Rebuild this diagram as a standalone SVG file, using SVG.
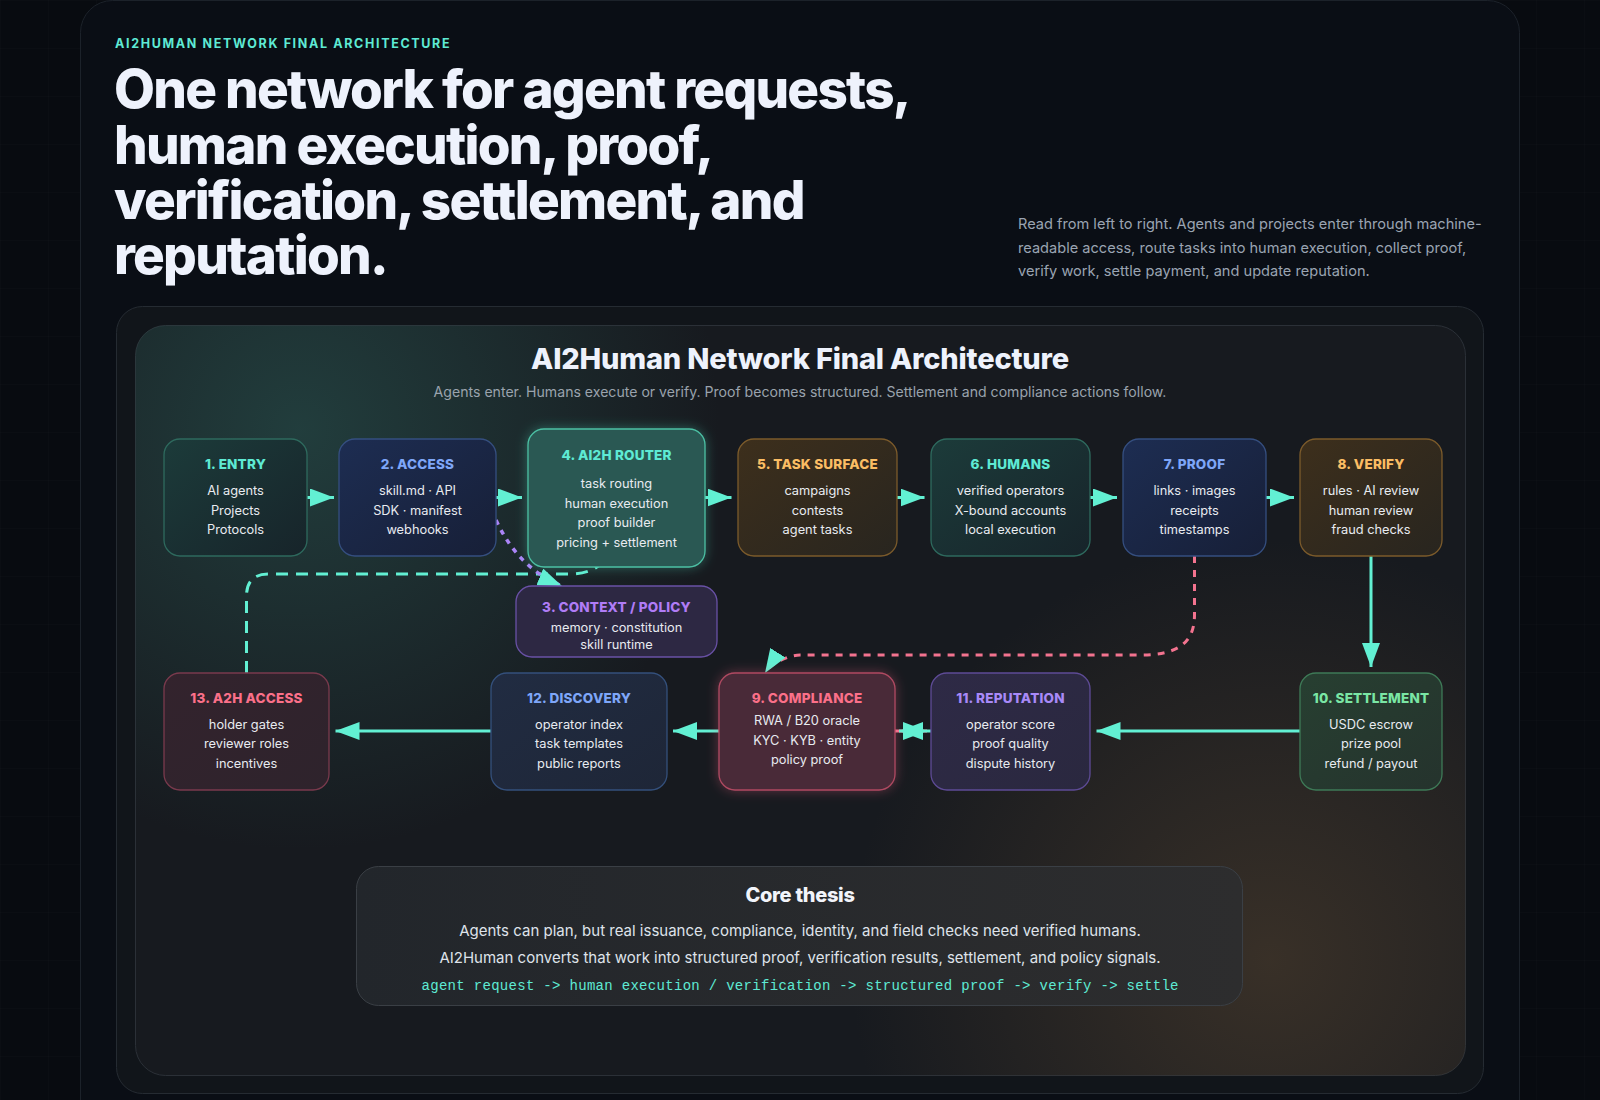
<svg xmlns="http://www.w3.org/2000/svg" width="1600" height="1100" viewBox="0 0 1600 1100">
<defs>
<pattern id="grid" width="48" height="48" patternUnits="userSpaceOnUse">
<path d="M48 0 L0 0 0 48" fill="none" stroke="#ffffff" stroke-opacity="0.025" stroke-width="1"/>
</pattern>
<radialGradient id="glowTeal" cx="300" cy="430" r="420" gradientUnits="userSpaceOnUse">
<stop offset="0" stop-color="#2a5a55" stop-opacity="0.55"/>
<stop offset="1" stop-color="#2a5a55" stop-opacity="0"/>
</radialGradient>
<radialGradient id="glowWarm" cx="1270" cy="960" r="420" gradientUnits="userSpaceOnUse">
<stop offset="0" stop-color="#5a4630" stop-opacity="0.5"/>
<stop offset="1" stop-color="#5a4630" stop-opacity="0"/>
</radialGradient>
<linearGradient id="thesisFill" x1="0" y1="0" x2="1" y2="0">
<stop offset="0" stop-color="#22262b"/>
<stop offset="1" stop-color="#2d2d2e"/>
</linearGradient>
<linearGradient id="gTeal" x1="0" y1="0" x2="1" y2="1"><stop offset="0" stop-color="#1c3b3a"/><stop offset="1" stop-color="#17242a"/></linearGradient>
<linearGradient id="gBlue" x1="0" y1="0" x2="1" y2="1"><stop offset="0" stop-color="#1d2d52"/><stop offset="1" stop-color="#171f37"/></linearGradient>
<linearGradient id="gOrange" x1="0" y1="0" x2="1" y2="1"><stop offset="0" stop-color="#3d2f1c"/><stop offset="1" stop-color="#28251f"/></linearGradient>
<linearGradient id="gGreen" x1="0" y1="0" x2="1" y2="1"><stop offset="0" stop-color="#273f31"/><stop offset="1" stop-color="#25332d"/></linearGradient>
<linearGradient id="gPurple" x1="0" y1="0" x2="1" y2="1"><stop offset="0" stop-color="#2e2a46"/><stop offset="1" stop-color="#2a283f"/></linearGradient>
<linearGradient id="gNavy" x1="0" y1="0" x2="1" y2="1"><stop offset="0" stop-color="#212c42"/><stop offset="1" stop-color="#1e2637"/></linearGradient>
<linearGradient id="gRose" x1="0" y1="0" x2="1" y2="1"><stop offset="0" stop-color="#33232d"/><stop offset="1" stop-color="#2e232c"/></linearGradient>
<filter id="glowT" x="-30%" y="-30%" width="160%" height="160%">
<feFlood flood-color="#4fe0c0" flood-opacity="0.35" result="c"/>
<feComposite operator="in" in="c" in2="SourceAlpha"/>
<feGaussianBlur stdDeviation="6"/>
<feMerge><feMergeNode/><feMergeNode in="SourceGraphic"/></feMerge>
</filter>
<filter id="glowP" x="-30%" y="-30%" width="160%" height="160%">
<feFlood flood-color="#f0607e" flood-opacity="0.35" result="c"/>
<feComposite operator="in" in="c" in2="SourceAlpha"/>
<feGaussianBlur stdDeviation="6"/>
<feMerge><feMergeNode/><feMergeNode in="SourceGraphic"/></feMerge>
</filter>
<marker id="arrow" viewBox="0 0 24 18" refX="24" refY="9" markerWidth="24" markerHeight="18" markerUnits="userSpaceOnUse" orient="auto">
<path d="M0,0 L24,9 L0,18 Z" fill="#62f0d3"/>
</marker>
<style>
.eyebrow{font-family:Inter,"Liberation Sans",sans-serif;font-size:12.5px;font-weight:700;letter-spacing:1.65px;fill:#5eead4;}
.headline{font-family:Inter,"Liberation Sans",sans-serif;font-size:53px;font-weight:800;letter-spacing:-1.75px;fill:#eef2fc;}
.lede{font-family:Inter,"Liberation Sans",sans-serif;font-size:14.6px;fill:#9aa4b2;}
.dtitle{font-family:Inter,"Liberation Sans",sans-serif;font-size:29px;font-weight:800;letter-spacing:-0.2px;fill:#eef2fc;text-anchor:middle;}
.dsub{font-family:Inter,"Liberation Sans",sans-serif;font-size:14.1px;fill:#9aa3ad;text-anchor:middle;}
.nt{font-family:Inter,"Liberation Sans",sans-serif;font-size:13.5px;font-weight:800;text-anchor:middle;letter-spacing:0.2px;}
.nb{font-family:Inter,"Liberation Sans",sans-serif;font-size:12.8px;fill:#e8ebf0;text-anchor:middle;}
.teal{fill:#5eead4;}
.blue{fill:#7ea6f8;}
.orange{fill:#fbbd64;}
.purple{fill:#b07cf6;}
.purple2{fill:#a889f8;}
.green{fill:#7ae6a4;}
.pink{fill:#fb7089;}
.box{stroke-width:1.3;}
.conn{fill:none;stroke:#62f0d3;stroke-width:3;}
.thesisT{font-family:Inter,"Liberation Sans",sans-serif;font-size:20px;font-weight:800;fill:#f2f4fa;text-anchor:middle;letter-spacing:-0.3px;}
.thesisB{font-family:Inter,"Liberation Sans",sans-serif;font-size:15px;fill:#dfe3ea;text-anchor:middle;}
.mono{font-family:"Liberation Mono","DejaVu Sans Mono",monospace;font-size:14px;fill:#5eead4;text-anchor:middle;}
</style>
</defs>

<rect width="1600" height="1100" fill="#080b10"/>
<rect width="1600" height="1100" fill="url(#grid)"/>

<!-- page card -->
<rect x="80.5" y="0.5" width="1439" height="1140" rx="32" fill="#0a0e15" stroke="#1c222a" stroke-width="1"/>

<text class="eyebrow" x="115" y="48">AI2HUMAN NETWORK FINAL ARCHITECTURE</text>
<text class="headline" x="114" y="108">One network for agent requests,</text>
<text class="headline" x="114" y="164">human execution, proof,</text>
<text class="headline" x="114" y="219">verification, settlement, and</text>
<text class="headline" x="114" y="274">reputation.</text>

<text class="lede" x="1018" y="229">Read from left to right. Agents and projects enter through machine-</text>
<text class="lede" x="1018" y="252.5">readable access, route tasks into human execution, collect proof,</text>
<text class="lede" x="1018" y="276">verify work, settle payment, and update reputation.</text>

<!-- outer diagram panel -->
<rect x="116.5" y="306.5" width="1367" height="787" rx="26" fill="#11151a" stroke="#252b32" stroke-width="1"/>
<!-- inner panel -->
<rect x="135.5" y="325.5" width="1330" height="750" rx="30" fill="#171a1f" stroke="#2b3037" stroke-width="1"/>
<rect x="135.5" y="325.5" width="1330" height="750" rx="30" fill="url(#glowTeal)"/>
<rect x="135.5" y="325.5" width="1330" height="750" rx="30" fill="url(#glowWarm)"/>

<text class="dtitle" x="800" y="369" textLength="538" lengthAdjust="spacing">AI2Human Network Final Architecture</text>
<text class="dsub" x="800" y="397">Agents enter. Humans execute or verify. Proof becomes structured. Settlement and compliance actions follow.</text>

<!-- connectors -->
<g id="connectors">
<path class="conn" d="M307,497.5 L334,497.5" marker-end="url(#arrow)"/>
<path class="conn" d="M496,497.5 L522,497.5" marker-end="url(#arrow)"/>
<path class="conn" d="M705,497.5 L731.5,497.5" marker-end="url(#arrow)"/>
<path class="conn" d="M897,497.5 L924.5,497.5" marker-end="url(#arrow)"/>
<path class="conn" d="M1090,497.5 L1117,497.5" marker-end="url(#arrow)"/>
<path class="conn" d="M1266,497.5 L1294,497.5" marker-end="url(#arrow)"/>
<path class="conn" d="M1371,556 L1371,667" marker-end="url(#arrow)"/>
<path class="conn" d="M1300,731 L1096.5,731" marker-end="url(#arrow)"/>
<path d="M895,731 L927,731" fill="none" stroke="#f3738f" stroke-width="3" marker-end="url(#arrow)"/>
<path class="conn" d="M931,731 L899,731" marker-end="url(#arrow)"/>
<path class="conn" d="M719,731 L673,731" marker-end="url(#arrow)"/>
<path class="conn" d="M491,731 L335.5,731" marker-end="url(#arrow)"/>
<path class="conn" stroke-dasharray="12 8" d="M246.5,673 L246.5,596 Q246.5,574 268.5,574 L570,574 C590,574 608,566 615,540" marker-end="url(#arrow)"/>
<path d="M496,520 Q518,568 562,586" fill="none" stroke="#ab84f7" stroke-width="3.5" stroke-dasharray="5 6" marker-end="url(#arrow)"/>
<path d="M1194.5,556 L1194.5,615 C1194.5,645 1175,655 1140,655 L800,655 C790,655 772,662 765,673" fill="none" stroke="#f3738f" stroke-width="3" stroke-dasharray="7 7" marker-end="url(#arrow)"/>
</g>

<!-- nodes -->
<g id="node-entry">
<rect class="box" x="164" y="439" width="143" height="117" rx="16" fill="url(#gTeal)" stroke="#2e6a5e"/>
<text class="nt teal" x="235.5" y="469">1. ENTRY</text>
<text class="nb" x="235.5" y="495">AI agents</text>
<text class="nb" x="235.5" y="514.5">Projects</text>
<text class="nb" x="235.5" y="534">Protocols</text>
</g>
<g id="node-access">
<rect class="box" x="339" y="439" width="157" height="117" rx="16" fill="url(#gBlue)" stroke="#354f80"/>
<text class="nt blue" x="417.5" y="469">2. ACCESS</text>
<text class="nb" x="417.5" y="495">skill.md · API</text>
<text class="nb" x="417.5" y="514.5">SDK · manifest</text>
<text class="nb" x="417.5" y="534">webhooks</text>
</g>
<g id="node-router">
<rect class="box" x="528" y="429" width="177" height="138" rx="16" fill="#2a5852" stroke="#4cc0a4" filter="url(#glowT)"/>
<text class="nt teal" x="616.5" y="460">4. AI2H ROUTER</text>
<text class="nb" x="616.5" y="488">task routing</text>
<text class="nb" x="616.5" y="507.5">human execution</text>
<text class="nb" x="616.5" y="527">proof builder</text>
<text class="nb" x="616.5" y="546.5">pricing + settlement</text>
</g>
<g id="node-context">
<rect class="box" x="516" y="586" width="201" height="71" rx="16" fill="#2d2843" stroke="#6951a6"/>
<text class="nt purple" x="616.5" y="612">3. CONTEXT / POLICY</text>
<text class="nb" x="616.5" y="632">memory · constitution</text>
<text class="nb" x="616.5" y="648.5">skill runtime</text>
</g>
<g id="node-task-surface">
<rect class="box" x="738" y="439" width="159" height="117" rx="16" fill="url(#gOrange)" stroke="#7c5b2b"/>
<text class="nt orange" x="817.5" y="469">5. TASK SURFACE</text>
<text class="nb" x="817.5" y="495">campaigns</text>
<text class="nb" x="817.5" y="514.5">contests</text>
<text class="nb" x="817.5" y="534">agent tasks</text>
</g>
<g id="node-humans">
<rect class="box" x="931" y="439" width="159" height="117" rx="16" fill="url(#gTeal)" stroke="#2e6a5e"/>
<text class="nt teal" x="1010.5" y="469">6. HUMANS</text>
<text class="nb" x="1010.5" y="495">verified operators</text>
<text class="nb" x="1010.5" y="514.5">X-bound accounts</text>
<text class="nb" x="1010.5" y="534">local execution</text>
</g>
<g id="node-proof">
<rect class="box" x="1123" y="439" width="143" height="117" rx="16" fill="url(#gBlue)" stroke="#354f80"/>
<text class="nt blue" x="1194.5" y="469">7. PROOF</text>
<text class="nb" x="1194.5" y="495">links · images</text>
<text class="nb" x="1194.5" y="514.5">receipts</text>
<text class="nb" x="1194.5" y="534">timestamps</text>
</g>
<g id="node-verify">
<rect class="box" x="1300" y="439" width="142" height="117" rx="16" fill="url(#gOrange)" stroke="#7c5b2b"/>
<text class="nt orange" x="1371" y="469">8. VERIFY</text>
<text class="nb" x="1371" y="495">rules · AI review</text>
<text class="nb" x="1371" y="514.5">human review</text>
<text class="nb" x="1371" y="534">fraud checks</text>
</g>
<g id="node-a2h-access">
<rect class="box" x="164" y="673" width="165" height="117" rx="16" fill="url(#gRose)" stroke="#7a3a4d"/>
<text class="nt pink" x="246.5" y="703">13. A2H ACCESS</text>
<text class="nb" x="246.5" y="729">holder gates</text>
<text class="nb" x="246.5" y="748">reviewer roles</text>
<text class="nb" x="246.5" y="767.5">incentives</text>
</g>
<g id="node-discovery">
<rect class="box" x="491" y="673" width="176" height="117" rx="16" fill="url(#gNavy)" stroke="#34507c"/>
<text class="nt blue" x="579" y="703">12. DISCOVERY</text>
<text class="nb" x="579" y="728.5">operator index</text>
<text class="nb" x="579" y="747.5">task templates</text>
<text class="nb" x="579" y="767.5">public reports</text>
</g>
<g id="node-compliance">
<rect class="box" x="719" y="673" width="176" height="117" rx="16" fill="#4a2b37" stroke="#b04a62" filter="url(#glowP)"/>
<text class="nt pink" x="807" y="702.5">9. COMPLIANCE</text>
<text class="nb" x="807" y="725">RWA / B20 oracle</text>
<text class="nb" x="807" y="744.5">KYC · KYB · entity</text>
<text class="nb" x="807" y="763.5">policy proof</text>
</g>
<g id="node-reputation">
<rect class="box" x="931" y="673" width="159" height="117" rx="16" fill="url(#gPurple)" stroke="#5e4b96"/>
<text class="nt purple2" x="1010.5" y="702.5">11. REPUTATION</text>
<text class="nb" x="1010.5" y="729">operator score</text>
<text class="nb" x="1010.5" y="748.3">proof quality</text>
<text class="nb" x="1010.5" y="767.7">dispute history</text>
</g>
<g id="node-settlement">
<rect class="box" x="1300" y="673" width="142" height="117" rx="16" fill="url(#gGreen)" stroke="#3e7a57"/>
<text class="nt green" x="1371" y="702.5">10. SETTLEMENT</text>
<text class="nb" x="1371" y="729">USDC escrow</text>
<text class="nb" x="1371" y="748.3">prize pool</text>
<text class="nb" x="1371" y="767.7">refund / payout</text>
</g>

<!-- core thesis -->
<g id="core-thesis">
<rect x="356.5" y="866.5" width="886" height="139" rx="22" fill="url(#thesisFill)" stroke="#3a3f45" stroke-width="1"/>
<text class="thesisT" x="800" y="902">Core thesis</text>
<text class="thesisB" x="800" y="936">Agents can plan, but real issuance, compliance, identity, and field checks need verified humans.</text>
<text class="thesisB" x="800" y="963">AI2Human converts that work into structured proof, verification results, settlement, and policy signals.</text>
<text class="mono" x="800" y="990" textLength="757" lengthAdjust="spacing">agent request -&gt; human execution / verification -&gt; structured proof -&gt; verify -&gt; settle</text>
</g>
</svg>
